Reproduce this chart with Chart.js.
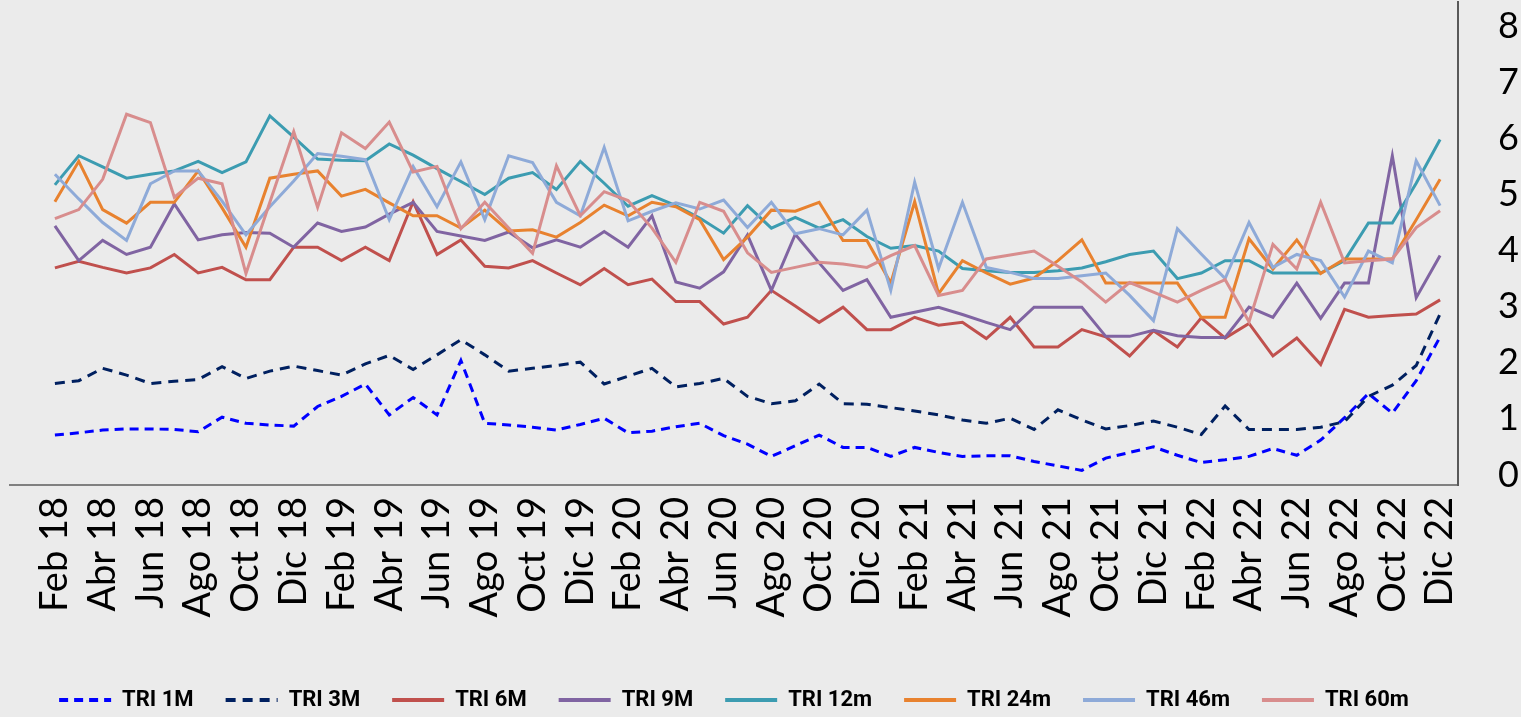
<!DOCTYPE html>
<html lang="es">
<head>
  <meta charset="UTF-8" />
  <title>TRI</title>
  <script src="https://cdn.jsdelivr.net/npm/chart.js"></script>
  <style>
    html, body { margin: 0; padding: 0; background: #ebebeb; overflow: hidden; }
    #wrap { position: relative; width: 1521px; height: 717px; }
  </style>
</head>
<body>
  <div id="wrap"><canvas id="triChart"></canvas></div>

  <script>
    // months, Feb 18 .. Dic 22
    const months = [
      'Feb 18','Mar 18','Abr 18','May 18','Jun 18','Jul 18','Ago 18','Sep 18','Oct 18','Nov 18','Dic 18',
      'Ene 19','Feb 19','Mar 19','Abr 19','May 19','Jun 19','Jul 19','Ago 19','Sep 19','Oct 19','Nov 19','Dic 19',
      'Ene 20','Feb 20','Mar 20','Abr 20','May 20','Jun 20','Jul 20','Ago 20','Sep 20','Oct 20','Nov 20','Dic 20',
      'Ene 21','Feb 21','Mar 21','Abr 21','May 21','Jun 21','Jul 21','Ago 21','Sep 21','Oct 21','Nov 21','Dic 21',
      'Ene 22','Feb 22','Mar 22','Abr 22','May 22','Jun 22','Jul 22','Ago 22','Sep 22','Oct 22','Nov 22','Dic 22'
    ];

    // labels shown on the x axis (every second month)
    const xTickLabels = [
      'Feb 18','Abr 18','Jun 18','Ago 18','Oct 18','Dic 18',
      'Feb 19','Abr 19','Jun 19','Ago 19','Oct 19','Dic 19',
      'Feb 20','Abr 20','Jun 20','Ago 20','Oct 20','Dic 20',
      'Feb 21','Abr 21','Jun 21','Ago 21','Oct 21','Dic 21',
      'Feb 22','Abr 22','Jun 22','Ago 22','Oct 22','Dic 22'
    ];

    const yTicks = [0, 1, 2, 3, 4, 5, 6, 7, 8];

    const tri1M = [0.71,0.75,0.80,0.82,0.82,0.81,0.77,1.03,0.92,0.89,
                   0.87,1.22,1.40,1.62,1.07,1.38,1.07,2.04,0.92,0.89,
                   0.85,0.80,0.90,1.01,0.75,0.78,0.86,0.92,0.70,0.55,
                   0.33,0.52,0.71,0.49,0.49,0.33,0.49,0.40,0.33,0.34,
                   0.34,0.24,0.16,0.08,0.30,0.40,0.50,0.35,0.22,0.27,
                   0.33,0.47,0.35,0.62,1.02,1.45,1.10,1.68,2.46];

    const tri3M = [1.63,1.68,1.90,1.78,1.63,1.67,1.70,1.93,1.72,1.85,
                   1.94,1.86,1.78,1.98,2.13,1.88,2.14,2.41,2.14,1.85,
                   1.90,1.95,2.01,1.62,1.76,1.90,1.57,1.63,1.72,1.40,
                   1.27,1.32,1.62,1.27,1.26,1.20,1.14,1.07,0.98,0.92,
                   1.01,0.81,1.16,0.98,0.82,0.88,0.96,0.85,0.72,1.23,
                   0.81,0.81,0.81,0.85,0.95,1.40,1.60,1.95,2.87];

    const tri6M = [3.69,3.81,3.70,3.60,3.69,3.93,3.60,3.70,3.48,3.48,
                   4.06,4.06,3.82,4.06,3.82,4.87,3.93,4.19,3.72,3.69,
                   3.82,3.60,3.39,3.68,3.39,3.49,3.09,3.09,2.69,2.81,
                   3.29,3.01,2.72,2.99,2.59,2.59,2.81,2.67,2.72,2.43,
                   2.81,2.28,2.28,2.59,2.46,2.12,2.57,2.28,2.80,2.44,
                   2.70,2.12,2.44,1.97,2.95,2.81,2.84,2.87,3.12];

    const tri9M = [4.44,3.82,4.18,3.93,4.06,4.83,4.19,4.28,4.32,4.31,
                   4.06,4.49,4.34,4.42,4.65,4.86,4.34,4.26,4.18,4.33,
                   4.05,4.19,4.06,4.34,4.06,4.62,3.44,3.33,3.62,4.28,
                   3.29,4.29,3.78,3.29,3.48,2.81,2.90,2.99,2.86,2.72,
                   2.59,2.99,2.99,2.99,2.47,2.47,2.58,2.48,2.45,2.45,
                   2.99,2.81,3.42,2.79,3.42,3.42,5.69,3.16,3.91];

    const tri12m = [5.17,5.69,5.49,5.29,5.36,5.42,5.59,5.39,5.58,6.40,
                    6.02,5.63,5.61,5.60,5.90,5.70,5.46,5.23,5.00,5.29,
                    5.39,5.09,5.59,5.20,4.79,4.98,4.80,4.58,4.31,4.80,
                    4.40,4.59,4.40,4.55,4.25,4.04,4.09,3.99,3.68,3.64,
                    3.61,3.61,3.64,3.69,3.80,3.93,3.99,3.50,3.60,3.82,
                    3.82,3.60,3.60,3.60,3.82,4.49,4.49,5.20,5.98];

    const tri24m = [4.87,5.59,4.73,4.49,4.86,4.86,5.42,4.76,4.06,5.29,
                    5.36,5.42,4.97,5.09,4.85,4.62,4.62,4.40,4.72,4.35,
                    4.37,4.24,4.50,4.81,4.62,4.86,4.78,4.55,3.84,4.24,
                    4.72,4.70,4.86,4.18,4.18,3.42,4.87,3.23,3.82,3.60,
                    3.40,3.51,3.82,4.19,3.42,3.42,3.42,3.42,2.81,2.81,
                    4.21,3.67,4.19,3.59,3.85,3.85,3.85,4.55,5.27];

    const tri46m = [5.36,4.92,4.50,4.18,5.19,5.42,5.42,4.88,4.28,4.78,
                    5.24,5.73,5.68,5.62,4.55,5.50,4.78,5.58,4.55,5.69,
                    5.57,4.86,4.62,5.84,4.53,4.70,4.85,4.74,4.90,4.41,
                    4.86,4.30,4.39,4.28,4.72,3.29,5.22,3.68,4.86,3.70,
                    3.61,3.50,3.50,3.55,3.60,3.20,2.75,4.39,3.94,3.50,
                    4.50,3.70,3.93,3.82,3.17,3.99,3.78,5.60,4.80];

    const tri60m = [4.57,4.73,5.27,6.43,6.28,4.95,5.29,5.19,3.59,4.86,
                    6.12,4.77,6.10,5.82,6.29,5.40,5.50,4.39,4.86,4.40,
                    3.95,5.51,4.62,5.05,4.89,4.40,3.79,4.86,4.70,3.96,
                    3.61,3.70,3.79,3.76,3.70,3.91,4.09,3.20,3.29,3.85,
                    3.92,3.99,3.72,3.44,3.08,3.43,3.26,3.08,3.29,3.48,
                    2.73,4.11,3.67,4.86,3.78,3.82,3.85,4.41,4.71];

    const seriesNames = ['TRI 1M', 'TRI 3M', 'TRI 6M', 'TRI 9M', 'TRI 12m', 'TRI 24m', 'TRI 46m', 'TRI 60m'];
    const seriesValues = [tri1M, tri3M, tri6M, tri9M, tri12m, tri24m, tri46m, tri60m];
    const seriesColors = ['#0000ff', '#002060', '#c0504d', '#8064a2', '#3c9cb1', '#e8822f', '#8eaad8', '#d88d8d'];
    const seriesDash = [[9, 6], [10, 7], [], [], [], [], [], []];

    const axisFont = "Lato, 'Open Sans', sans-serif";
    const legendFont = "Roboto, 'Liberation Sans', sans-serif";

    const PLOT_BOTTOM = 485;   // y of the x axis line
    const LEGEND_MID = 700;    // y of the legend row
    let xAxisHeight = 172;

    // paint the slide-like background
    const bgPlugin = {
      id: 'bg',
      beforeDraw(chart) {
        const ctx = chart.ctx;
        ctx.save();
        ctx.fillStyle = '#ebebeb';
        ctx.fillRect(0, 0, chart.width, chart.height);
        ctx.restore();
      }
    };

    const datasets = seriesNames.map((name, k) => ({
      label: name,
      data: seriesValues[k].map((v, i) => ({ x: i, y: v })),
      borderColor: seriesColors[k],
      backgroundColor: seriesColors[k],
      borderWidth: 3,
      borderDash: seriesDash[k],
      pointRadius: 0,
      pointHoverRadius: 0,
      tension: 0,
      fill: false,
      order: seriesNames.length - k   // later series drawn on top
    }));

    // legend samples: keep the dash of each line
    function legendLabels(c) {
      return Chart.defaults.plugins.legend.labels.generateLabels(c).map(item => {
        const ds = c.data.datasets[item.datasetIndex];
        item.lineDash = ds.borderDash;
        item.lineWidth = 4;
        item.strokeStyle = ds.borderColor;
        item.pointStyle = 'line';
        return item;
      });
    }

    const chart = new Chart(document.getElementById('triChart'), {
      type: 'line',
      data: { datasets },
      plugins: [bgPlugin],
      options: {
        responsive: true,
        maintainAspectRatio: false,
        animation: false,
        layout: { padding: { left: 10, right: 0, top: 0, bottom: 0 } },
        plugins: {
          tooltip: { enabled: false },
          legend: {
            position: 'bottom',
            align: 'center',
            fullSize: false,
            labels: {
              usePointStyle: true,
              pointStyle: 'line',
              pointStyleWidth: 52,
              padding: 32,
              color: '#000',
              font: { family: legendFont, size: 22, weight: 'bold' },
              generateLabels: legendLabels,
              sort: (a, b) => a.datasetIndex - b.datasetIndex
            }
          }
        },
        scales: {
          x: {
            type: 'linear',
            min: -1.88,
            max: 58.75,
            grid: { display: false, drawTicks: false },
            border: { display: true, color: '#808080', width: 2 },
            afterBuildTicks: s => {
              s.ticks = xTickLabels.map(l => ({ value: months.indexOf(l) }));
            },
            afterFit: s => {
              s.height = xAxisHeight;
              s.paddingLeft = 0;
              s.paddingRight = 0;
            },
            ticks: {
              autoSkip: false,
              minRotation: 90,
              maxRotation: 90,
              padding: 12,
              color: '#000',
              font: { family: axisFont, size: 38 },
              callback: v => months[v]
            }
          },
          y: {
            position: 'right',
            min: -0.18,
            max: 8.44,
            grid: { display: false, drawTicks: false },
            border: { display: true, color: '#595959', width: 2 },
            afterBuildTicks: s => {
              s.ticks = yTicks.map(v => ({ value: v }));
            },
            afterFit: s => {
              s.width = 63;
              s.paddingTop = 0;
              s.paddingBottom = 0;
            },
            ticks: {
              padding: 40,
              color: '#000',
              font: { family: axisFont, size: 36 }
            }
          }
        }
      }
    });

    // move the legend row to LEGEND_MID and keep the plot bottom at PLOT_BOTTOM
    const hb = chart.legend.legendHitBoxes[0];
    const shift = LEGEND_MID - (hb.top + hb.height / 2);
    const wrap = document.getElementById('wrap');
    wrap.style.height = (717 + shift) + 'px';
    xAxisHeight = chart.legend.top + shift - PLOT_BOTTOM;
    chart.resize();
    chart.update('none');
  </script>
</body>
</html>
